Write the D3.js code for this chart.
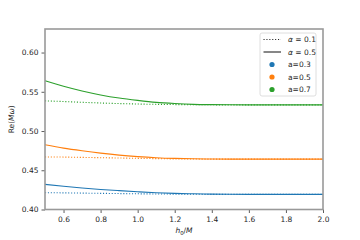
<!DOCTYPE html>
<html>
<head>
<meta charset="utf-8">
<script src="https://cdn.jsdelivr.net/npm/d3@7"></script>
<style>
  body { margin: 0; background: #fff; }
  text { font-family: "DejaVu Sans", sans-serif; fill: #262626; }
</style>
</head>
<body>
<div id="chart"></div>
<script>
// Data
const hValues = [0.5, 0.6, 0.7, 0.8, 0.9, 1.0, 1.1, 1.2, 1.3, 1.4, 1.5, 1.6, 1.7, 1.8, 1.9, 2.0];

const green05 = [0.564, 0.557, 0.551, 0.546, 0.542, 0.539, 0.5365, 0.535, 0.534, 0.5336, 0.5334, 0.5333, 0.5333, 0.5333, 0.5333, 0.5333];
const green01 = [0.5384, 0.5376, 0.5366, 0.5357, 0.535, 0.5344, 0.534, 0.5337, 0.5335, 0.5334, 0.5333, 0.5333, 0.5333, 0.5333, 0.5333, 0.5333];
const orange05 = [0.4824, 0.4782, 0.4748, 0.4718, 0.4693, 0.4674, 0.466, 0.4651, 0.4646, 0.4643, 0.4642, 0.4642, 0.4642, 0.4642, 0.4642, 0.4642];
const orange01 = [0.467, 0.4668, 0.4664, 0.466, 0.4656, 0.4652, 0.4648, 0.4645, 0.4643, 0.4642, 0.4642, 0.4642, 0.4642, 0.4642, 0.4642, 0.4642];
const blue05 = [0.432, 0.4296, 0.4274, 0.4255, 0.424, 0.4226, 0.4214, 0.4205, 0.42, 0.4196, 0.4194, 0.4193, 0.4193, 0.4193, 0.4193, 0.4193];
const blue01 = [0.4214, 0.4212, 0.4209, 0.4206, 0.4203, 0.42, 0.4198, 0.4196, 0.4194, 0.4193, 0.4193, 0.4193, 0.4193, 0.4193, 0.4193, 0.4193];

const xTicks = [0.6, 0.8, 1.0, 1.2, 1.4, 1.6, 1.8, 2.0];
const yTicks = [0.40, 0.45, 0.50, 0.55, 0.60];

const series = [
  { values: blue01, color: "#1f77b4", dotted: true },
  { values: blue05, color: "#1f77b4", dotted: false },
  { values: orange01, color: "#ff7f0e", dotted: true },
  { values: orange05, color: "#ff7f0e", dotted: false },
  { values: green01, color: "#2ca02c", dotted: true },
  { values: green05, color: "#2ca02c", dotted: false }
];

const margin = { top: 29, right: 37, bottom: 30.5, left: 45 };
const width = 360 - margin.left - margin.right;
const height = 240 - margin.top - margin.bottom;

const svgRoot = d3.select("#chart")
  .append("svg")
  .attr("width", 360)
  .attr("height", 240);

const svg = svgRoot.append("g")
  .attr("transform", `translate(${margin.left},${margin.top})`);

const x = d3.scaleLinear().domain([0.5, 2.0]).range([0, width]);
const y = d3.scaleLinear().domain([0.40, 0.63]).range([height, 0]);

// Lines
const line = d3.line()
  .x((d, i) => x(hValues[i]))
  .y((d) => y(d))
  .curve(d3.curveMonotoneX);

svg.selectAll(".series")
  .data(series)
  .enter()
  .append("path")
  .attr("fill", "none")
  .attr("stroke", (d) => d.color)
  .attr("stroke-width", 1.1)
  .attr("stroke-dasharray", (d) => (d.dotted ? "1.1,1.8" : null))
  .attr("d", (d) => line(d.values));

// Axes
const xAxis = svg.append("g")
  .attr("transform", `translate(0,${height})`)
  .call(d3.axisBottom(x).tickValues(xTicks).tickFormat(d3.format(".1f")).tickSize(3.5).tickSizeOuter(0));

const yAxis = svg.append("g")
  .call(d3.axisLeft(y).tickValues(yTicks).tickFormat(d3.format(".2f")).tickSize(3.5).tickSizeOuter(0));

[xAxis, yAxis].forEach((ax) => {
  ax.select(".domain").remove();
  ax.selectAll(".tick line").attr("stroke", "#333").attr("stroke-width", 0.8);
  ax.selectAll(".tick text").style("font-size", "7.5px").attr("fill", "#262626");
});
xAxis.selectAll(".tick text").attr("dy", "0.85em");

// Frame
svg.append("rect")
  .attr("x", 0)
  .attr("y", 0)
  .attr("width", width)
  .attr("height", height)
  .attr("fill", "none")
  .attr("stroke", "#999")
  .attr("stroke-width", 1.6);

// Axis labels
const yLabel = svgRoot.append("text")
  .attr("transform", `translate(14,${margin.top + height / 2}) rotate(-90)`)
  .attr("text-anchor", "middle")
  .style("font-size", "7.5px");
yLabel.append("tspan").text("Re(");
yLabel.append("tspan").attr("font-style", "italic").text("Mω");
yLabel.append("tspan").text(")");

const xLabel = svgRoot.append("text")
  .attr("x", margin.left + width / 2)
  .attr("y", 233)
  .attr("text-anchor", "middle")
  .style("font-size", "7.5px");
xLabel.append("tspan").attr("font-style", "italic").text("h");
xLabel.append("tspan").attr("dy", 1.5).style("font-size", "5.3px").text("0");
xLabel.append("tspan").attr("dy", -1.5).text("/");
xLabel.append("tspan").attr("font-style", "italic").text("M");

// Legend
const legendItems = [
  { label: "α = 0.1", kind: "dotted", color: "#262626" },
  { label: "α = 0.5", kind: "solid", color: "#262626" },
  { label: "a=0.3", kind: "dot", color: "#1f77b4" },
  { label: "a=0.5", kind: "dot", color: "#ff7f0e" },
  { label: "a=0.7", kind: "dot", color: "#2ca02c" }
];

const legend = svgRoot.append("g").attr("transform", "translate(260,33)");

legend.append("rect")
  .attr("width", 56)
  .attr("height", 63)
  .attr("rx", 2)
  .attr("fill", "#fff")
  .attr("fill-opacity", 0.8)
  .attr("stroke", "#d5d5d5")
  .attr("stroke-width", 0.8);

const rows = legend.selectAll(".row")
  .data(legendItems)
  .enter()
  .append("g")
  .attr("transform", (d, i) => `translate(0,${6.5 + i * 12.5})`);

rows.filter((d) => d.kind !== "dot")
  .append("line")
  .attr("x1", 3.5)
  .attr("x2", 21)
  .attr("stroke", (d) => d.color)
  .attr("stroke-width", 1.1)
  .attr("stroke-dasharray", (d) => (d.kind === "dotted" ? "1.1,1.8" : null));

rows.filter((d) => d.kind === "dot")
  .append("circle")
  .attr("cx", 12)
  .attr("r", 2.6)
  .attr("fill", (d) => d.color);

rows.append("text")
  .attr("x", 28)
  .attr("dy", "0.35em")
  .style("font-size", "7.5px")
  .each(function (d) {
    const t = d3.select(this);
    if (d.label.startsWith("α")) {
      t.append("tspan").attr("font-style", "italic").text("α");
      t.append("tspan").text(d.label.slice(1));
    } else {
      t.text(d.label);
    }
  });
</script>
</body>
</html>
